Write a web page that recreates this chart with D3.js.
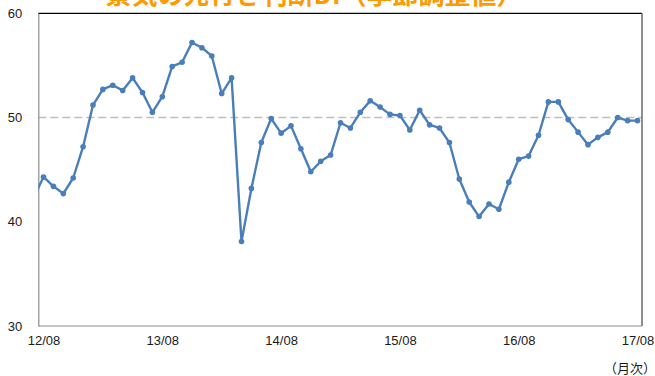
<!DOCTYPE html>
<html>
<head>
<meta charset="utf-8">
<script src="https://cdn.jsdelivr.net/npm/d3@7/dist/d3.min.js"></script>
<style>
  html, body { margin: 0; padding: 0; background: #fff; }
  svg { display: block; }
</style>
</head>
<body>
<svg id="chart" width="655" height="376"></svg>
<script>
// ---- data ----
const title = "景気の先行き判断DI（季節調整値）";
const unitLabel = "（月次）";
// Month index: -1 = 2012/07, 0 = 2012/08 ... 60 = 2017/08
const startYear = 2012, startMonth = 7;
const values = [
  42.3,                                                   // 12/07
  44.3, 43.4, 42.7, 44.2, 47.2, 51.2, 52.7, 53.1, 52.6, 53.8, 52.4, 50.5, // 12/08 - 13/07
  52.0, 54.9, 55.3, 57.2, 56.7, 55.9, 52.3, 53.8, 38.1, 43.2, 47.6, 49.9, // 13/08 - 14/07
  48.5, 49.2, 47.0, 44.8, 45.8, 46.4, 49.5, 49.0, 50.5, 51.6, 51.0, 50.3, // 14/08 - 15/07
  50.2, 48.8, 50.7, 49.3, 49.0, 47.6, 44.1, 41.9, 40.5, 41.7, 41.2, 43.8, // 15/08 - 16/07
  46.0, 46.3, 48.3, 51.5, 51.5, 49.8, 48.6, 47.4, 48.1, 48.6, 50.0, 49.7, // 16/08 - 17/07
  49.7                                                    // 17/08
];
const categories = values.map((_, i) => {
  const m = startMonth - 1 + i;
  const y = startYear + Math.floor(m / 12);
  const mm = (m % 12) + 1;
  return String(y % 100).padStart(2, "0") + "/" + String(mm).padStart(2, "0");
});
const xTickLabels = ["12/08", "13/08", "14/08", "15/08", "16/08", "17/08"];
const yTicks = [30, 40, 50, 60];
const refValue = 50;

// ---- layout ----
const svg = d3.select("#chart");
const plot = { left: 38.3, right: 642, top: 13.3, bottom: 326 };
const firstTickIdx = categories.indexOf("12/08");
const lastTickIdx = categories.indexOf("17/08");

const x = d3.scaleLinear()
  .domain([firstTickIdx, lastTickIdx])
  .range([43.5, 637.5]);
const y = d3.scaleLinear()
  .domain([30, 60])
  .range([plot.bottom, plot.top]);

svg.append("rect").attr("width", 655).attr("height", 376).attr("fill", "#fff");

// title (clipped at top of image, as in the reference)
svg.append("text")
  .attr("x", 314).attr("y", 4)
  .attr("text-anchor", "middle")
  .attr("font-family", "'Noto Sans CJK JP', sans-serif")
  .attr("font-size", 26).attr("font-weight", "bold")
  .attr("fill", "#FF9900")
  .text(title);

// clip
svg.append("clipPath").attr("id", "plotclip")
  .append("rect")
  .attr("x", plot.left).attr("y", plot.top - 5)
  .attr("width", plot.right - plot.left).attr("height", plot.bottom - plot.top + 10);

// reference dashed line at 50
svg.append("line")
  .attr("x1", plot.left).attr("x2", plot.right)
  .attr("y1", y(refValue)).attr("y2", y(refValue))
  .attr("stroke", "#BFBFBF").attr("stroke-width", 1.5)
  .attr("stroke-dasharray", "8,4");

// frame
svg.append("line").attr("x1", plot.left).attr("x2", plot.right)
  .attr("y1", plot.top).attr("y2", plot.top)
  .attr("stroke", "#000").attr("stroke-width", 1.3);
svg.append("line").attr("x1", plot.right).attr("x2", plot.right)
  .attr("y1", plot.top).attr("y2", plot.bottom)
  .attr("stroke", "#6a6a6a").attr("stroke-width", 1.5);

// y axis
const yAxis = d3.axisLeft(y).tickValues(yTicks).tickSize(0).tickPadding(16);
const gy = svg.append("g").attr("transform", `translate(${plot.left},0)`).call(yAxis);
gy.select(".domain").attr("stroke", "#8c8c8c").attr("stroke-width", 1.2);
gy.selectAll("text")
  .attr("font-family", "'Liberation Sans', Arial, sans-serif")
  .attr("font-size", 13).attr("fill", "#1a1a1a");

// x axis
const xAxis = d3.axisBottom(x)
  .tickValues(xTickLabels.map(l => categories.indexOf(l)))
  .tickFormat(i => categories[i])
  .tickSize(0).tickPadding(10);
const gx = svg.append("g").attr("transform", `translate(0,${plot.bottom})`).call(xAxis);
gx.select(".domain").remove();
svg.append("line").attr("x1", plot.left).attr("x2", plot.right)
  .attr("y1", plot.bottom).attr("y2", plot.bottom)
  .attr("stroke", "#8c8c8c").attr("stroke-width", 1.2);
gx.selectAll("text")
  .attr("font-family", "'Liberation Sans', Arial, sans-serif")
  .attr("font-size", 13).attr("fill", "#1a1a1a");

// unit label
svg.append("text")
  .attr("x", 656).attr("y", 373)
  .attr("text-anchor", "end")
  .attr("font-family", "'Noto Sans CJK JP', sans-serif")
  .attr("font-size", 13).attr("fill", "#1a1a1a")
  .text(unitLabel);

// series
const data = values.map((v, i) => ({ i, v }));
const g = svg.append("g").attr("clip-path", "url(#plotclip)");
g.append("path")
  .datum(data)
  .attr("fill", "none")
  .attr("stroke", "#4A7EBB").attr("stroke-width", 2.4)
  .attr("stroke-linejoin", "round")
  .attr("d", d3.line().x(d => x(d.i)).y(d => y(d.v)));
g.selectAll("circle")
  .data(data)
  .join("circle")
  .attr("cx", d => x(d.i)).attr("cy", d => y(d.v))
  .attr("r", 2.8)
  .attr("fill", "#4A7EBB");
</script>
</body>
</html>
